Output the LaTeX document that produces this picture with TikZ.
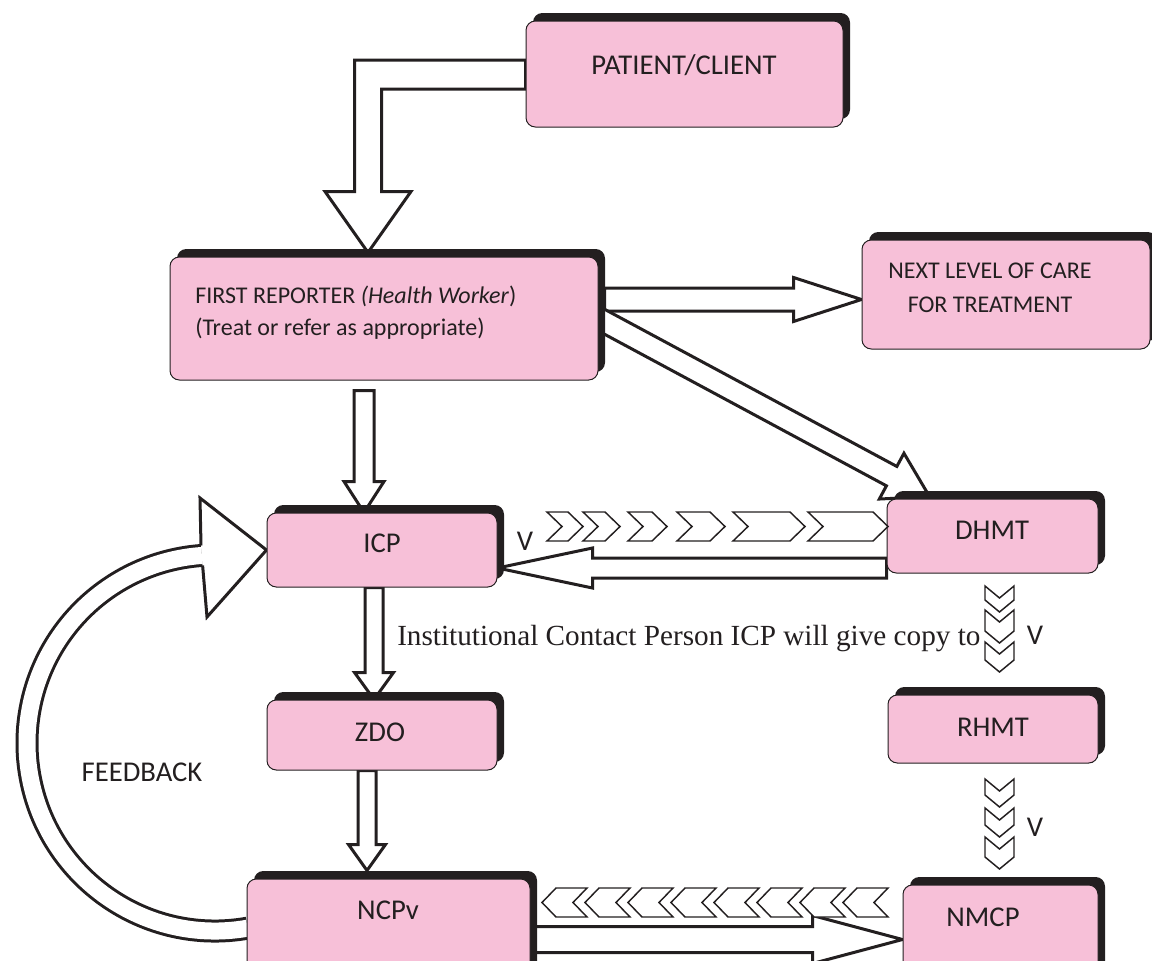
\documentclass[tikz,border=0pt]{standalone}
\usepackage{fontspec}
\setmainfont{Carlito}
\newfontfamily\serifface{Liberation Serif}
\usetikzlibrary{calc}
\definecolor{boxpink}{RGB}{247,192,216}
\definecolor{inkblack}{RGB}{35,31,32}
\pgfdeclarelayer{background}
\pgfsetlayers{background,main}

% hollow block arrow: tail, tip, half shaft, half head, head length
\newcommand{\hollowarrow}[5]{%
  \path ($(#2)!#5!(#1)$) coordinate (ha-base);
  \draw[blockarrow] ($(#1)!#3!90:(#2)$) -- ($(ha-base)!#3!-90:(#1)$)
    -- ($(ha-base)!#4!-90:(#1)$) -- (#2) -- ($(ha-base)!#4!90:(#1)$)
    -- ($(ha-base)!#3!90:(#1)$) -- ($(#1)!#3!-90:(#2)$) -- cycle;
}

\begin{document}
\begin{tikzpicture}[x=0.75pt,y=0.75pt,yscale=-1,xscale=1,
  box/.style={draw=inkblack, line width=0.75pt, fill=boxpink, rounded corners=7pt, inner sep=0pt,
    preaction={fill=inkblack, transform canvas={xshift=5.25pt, yshift=6pt}}},
  lbl/.style={inner sep=0pt, text=inkblack, font=\fontsize{21.5}{25}\selectfont},
  smalllbl/.style={inner sep=0pt, text=inkblack, font=\fontsize{18}{21}\selectfont},
  blockarrow/.style={draw=inkblack, line width=2.25pt, fill=white, line join=miter},
  chevron/.style={draw=inkblack, line width=1.1pt, fill=white, line join=miter}]
\useasboundingbox (0,0) rectangle (1152,960);

%Shape: boxes
\node[box, minimum width=237.75pt, minimum height=79.5pt] (pat) at (684.5,74) {};
\node[box, minimum width=321pt, minimum height=92.25pt] (first) at (384,318.5) {};
\node[box, minimum width=216pt, minimum height=81.75pt] (next) at (1006,294.5) {};
\node[box, minimum width=172.5pt, minimum height=55.5pt] (icp) at (382,550) {};
\node[box, minimum width=172.5pt, minimum height=52.5pt] (zdo) at (382,735) {};
\node[box, minimum width=212.25pt, minimum height=83.25pt] (ncpv) at (388.5,934.5) {};
\node[box, minimum width=158.25pt, minimum height=55.5pt] (dhmt) at (992.5,536) {};
\node[box, minimum width=157.5pt, minimum height=51pt] (rhmt) at (993,729) {};
\node[box, minimum width=146.25pt, minimum height=82.5pt] (nmcp) at (1000.5,940) {};

% Text Node
\node[lbl] (pat-t) at (684,65) {PATIENT/CLIENT};
\node[smalllbl, anchor=base west] (first-t1) at (195,303) {FIRST REPORTER \textit{(Health Worker})};
\node[smalllbl, anchor=base west] (first-t2) at (195,335) {(Treat or refer as appropriate)};
\node[smalllbl, anchor=base] (next-t1) at (990,278) {NEXT LEVEL OF CARE};
\node[smalllbl, anchor=base] (next-t2) at (990,312) {FOR TREATMENT};
\node[lbl] (icp-t) at (382,543) {ICP};
\node[lbl] (zdo-t) at (380,732) {ZDO};
\node[lbl] (ncpv-t) at (388,910) {NCPv};
\node[lbl] (dhmt-t) at (992,530) {DHMT};
\node[lbl] (rhmt-t) at (993,727) {RHMT};
\node[lbl] (nmcp-t) at (983,917) {NMCP};
\node[lbl] (fb-t) at (142,772) {FEEDBACK};
\node[lbl] (v1) at (525,541) {V};
\node[lbl] (v2) at (1035,635) {V};
\node[lbl] (v3) at (1035,827) {V};
\node[inner sep=0pt, text=inkblack, font=\serifface\fontsize{21.9}{25}\selectfont, anchor=base west] (copy-t) at (397,645) {Institutional Contact Person ICP will give copy to};

\begin{pgfonlayer}{background}
%Shape: elbow arrow patient to first reporter
\coordinate (elbow) at (368,74);
\draw[blockarrow] ($(pat.west)+(0,-14)$) -- ($(elbow)+(-13.5,-14)$) -- ($(elbow)+(-13.5,117.5)$)
  -- ($(elbow)+(-43,117.5)$) -- ($(elbow |- first.north)+(0,-4)$) -- ($(elbow)+(43,117.5)$)
  -- ($(elbow)+(13.5,117.5)$) -- ($(elbow)+(13.5,15)$) -- ($(pat.west)+(0,15)$) -- cycle;

%Shape: straight block arrows
\coordinate (a2s) at ($(first.east)+(6,-19)$);
\hollowarrow{a2s}{next.west |- a2s}{8.625pt}{16.5pt}{51pt}
\coordinate (a3e) at ($(dhmt.north west)+(43,-2)$);
\hollowarrow{first.east}{a3e}{8.25pt}{19.5pt}{32.25pt}
\coordinate (a4s) at ($(first.south)+(-20,10)$);
\hollowarrow{a4s}{a4s |- icp.north}{7.5pt}{15pt}{23.25pt}
\coordinate (a5s) at ($(icp.south)+(-8,0)$);
\hollowarrow{a5s}{a5s |- zdo.north}{6.75pt}{14.625pt}{20.25pt}
\coordinate (a6s) at ($(zdo.south)+(-15,0)$);
\coordinate (a6e) at ($(a6s |- ncpv.north)+(0,-8)$);
\hollowarrow{a6s}{a6e}{6.75pt}{13.875pt}{19.5pt}
\coordinate (a7s) at ($(dhmt.west)+(0,32)$);
\hollowarrow{a7s}{icp.east |- a7s}{7.5pt}{15pt}{71.25pt}
\coordinate (a8s) at ($(ncpv.east)+(0,5)$);
\hollowarrow{a8s}{nmcp.west |- a8s}{9.75pt}{18pt}{67.5pt}

%Curve Lines: feedback
\draw[draw=inkblack, line width=2.25pt, double=white, double distance=12.75pt]
  (215,743) ++(80:188) arc[start angle=80, end angle=266, radius=188];
\fill[white] (201,545.5) -- (200,498) -- (icp.west) -- (207,617) -- (202.6,565.4) -- cycle;
\draw[blockarrow, fill=none] (201,545.5) -- (200,498) -- (icp.west) -- (207,617) -- (202.6,565.4);
\end{pgfonlayer}

%Shape: chevrons
\foreach \a/\b in {547/568, 583/605, 628/652, 677/710, 733/790, 808/873}
  \draw[chevron] (\a,512) -- (\b,512) -- (\b+15,526.5) -- (\b,541) -- (\a,541) -- (\a+15,526.5) -- cycle;
\foreach \a/\b in {586/600, 610/631, 642/660, 779/795, 808/825, 837/857}
  \draw[chevron] (985,\a) -- (999.5,\a+12) -- (1014,\a) -- (1014,\b) -- (999.5,\b+12) -- (985,\b) -- cycle;
\foreach \t in {542, 585, 628, 671, 714, 757, 800, 843}
  \draw[chevron] (\t,902.5) -- (\t+14,888) -- (\t+45,888) -- (\t+31,902.5) -- (\t+45,917) -- (\t+14,917) -- cycle;
\end{tikzpicture}
\end{document}
